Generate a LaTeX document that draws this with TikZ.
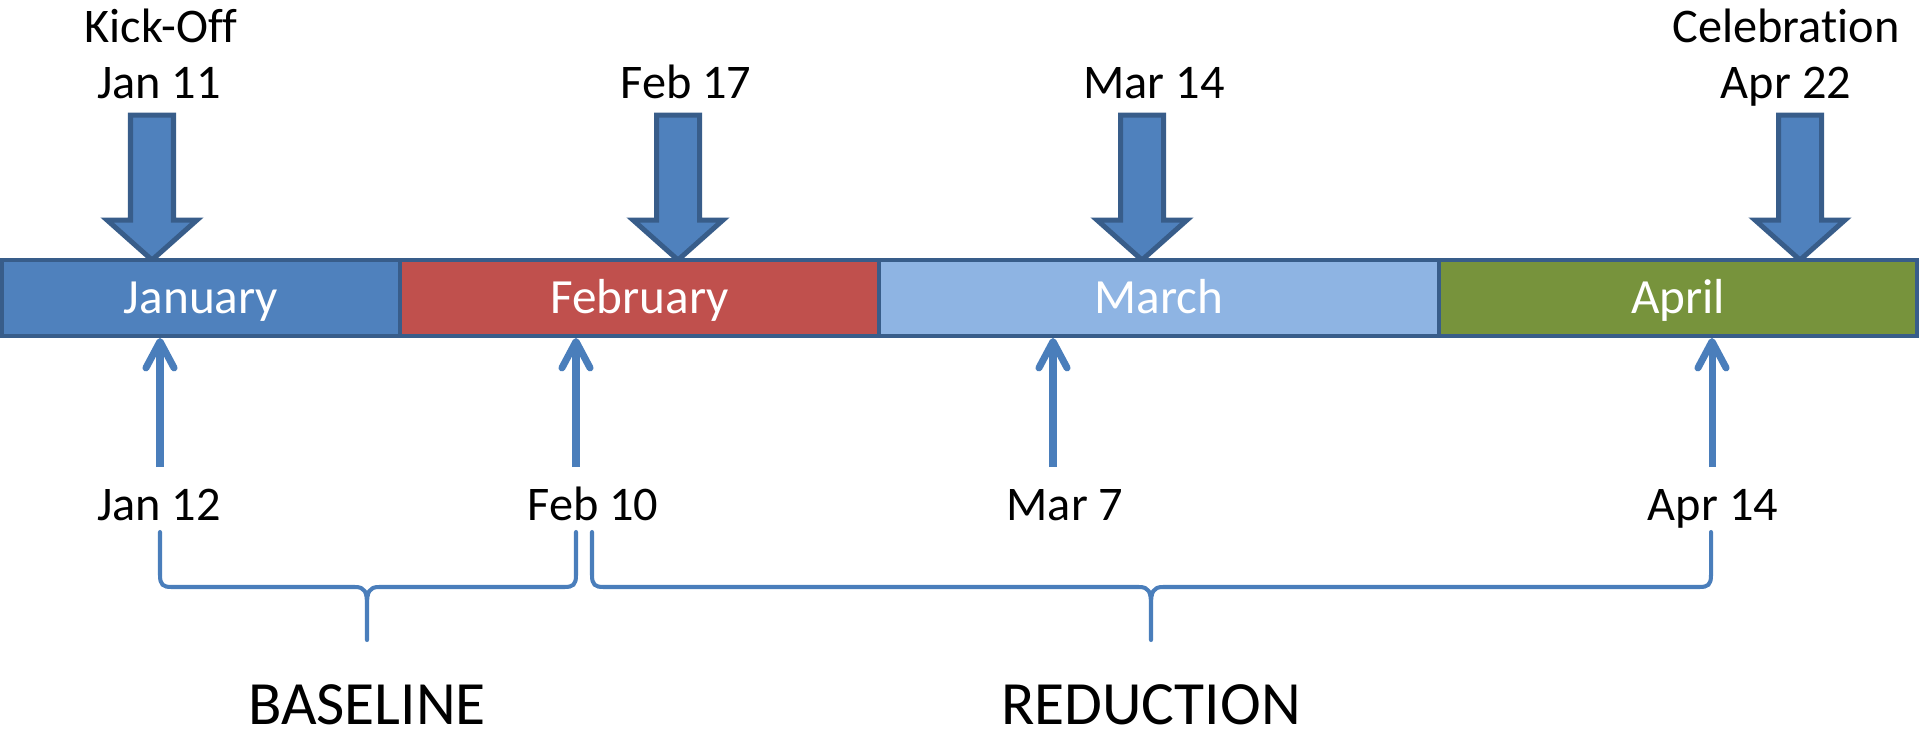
\documentclass[tikz,border=0pt]{standalone}
\usepackage{fontspec}
\setmainfont{Carlito}[Ligatures=NoCommon]
\usetikzlibrary{arrows.meta}
\definecolor{janC}{HTML}{4F81BD}
\definecolor{febC}{HTML}{C0504D}
\definecolor{marC}{HTML}{8EB4E3}
\definecolor{aprC}{HTML}{77933C}
\definecolor{edgeC}{HTML}{385D8A}
\definecolor{lineC}{HTML}{4A7EBB}
\tikzset{
  month/.style={draw=edgeC, line width=2.3pt, text=white, inner sep=0pt,
    font=\fontsize{28}{30}\selectfont, text height=17.5pt, text depth=0pt,
    minimum height=1.52cm},
  datelabel/.style={anchor=base, inner sep=0pt, font=\fontsize{27.5}{30}\selectfont},
  phaselabel/.style={anchor=base, inner sep=0pt, font=\fontsize{35}{40}\selectfont},
  thinarrow/.style={draw=lineC, line width=4pt,
    -{Straight Barb[length=15pt, width=16pt, round]}},
  bracestyle/.style={draw=lineC, line width=2.3pt, line cap=round},
  bigarrowstyle/.style={fill=janC, draw=edgeC, line width=2.85pt, line join=miter},
  bigarrow/.pic={
    \draw[bigarrowstyle] (-21.5,-145) -- (21.5,-145) -- (21.5,-40) -- (45,-40)
      -- (0,0) -- (-45,-40) -- (-21.5,-40) -- cycle;
  }
}
\newcommand\mybrace[4]{%
  \coordinate (#4a) at (#1,532);
  \coordinate (#4m) at (#2,640);
  \coordinate (#4b) at (#3,532);
  \draw[bracestyle] (#4a) -- (#1,575) .. controls (#1,585) and (#1+3,587) .. (#1+12,587)
    -- (#2-12,587) .. controls (#2-2,587) and (#2,592) .. (#2,605) -- (#4m)
    (#2,605) .. controls (#2,592) and (#2+2,587) .. (#2+12,587)
    -- (#3-12,587) .. controls (#3-3,587) and (#3,585) .. (#3,575) -- (#4b);
}
\begin{document}
\begin{tikzpicture}[x=0.02cm,y=-0.02cm]
\useasboundingbox (0,0) rectangle (1920,735);

% big arrows
\pic at (152,260) {bigarrow};
\pic at (678,260) {bigarrow};
\pic at (1142,260) {bigarrow};
\pic at (1800,260) {bigarrow};

% month bar
\node[month, fill=janC, minimum width=7.96cm] (jan) at (201,298) {January};
\node[month, fill=febC, minimum width=9.58cm] (feb) at (639.5,298) {February};
\node[month, fill=marC, minimum width=11.2cm] (mar) at (1159,298) {March};
\node[month, fill=aprC, minimum width=9.56cm] (apr) at (1678,298) {April};

% top labels
\node[datelabel] (kick) at (161,42) {Kick-Off};
\node[datelabel] (d1) at (159,98) {Jan 11};
\node[datelabel] (d2) at (686,98) {Feb 17};
\node[datelabel] (d3) at (1154,98) {Mar 14};
\node[datelabel] (celeb) at (1786,42) {Celebration};
\node[datelabel] (d4) at (1786,98) {Apr 22};

% bottom labels
\node[datelabel] (b1) at (159,520) {Jan 12};
\node[datelabel] (b2) at (593,520) {Feb 10};
\node[datelabel] (b3) at (1065,520) {Mar 7};
\node[datelabel] (b4) at (1713,520) {Apr 14};

% thin arrows
\coordinate (s1) at (160,467);
\coordinate (s2) at (576,467);
\coordinate (s3) at (1053,467);
\coordinate (s4) at (1712,467);
\draw[thinarrow] (s1) -- (s1 |- jan.south);
\draw[thinarrow] (s2) -- (s2 |- feb.south);
\draw[thinarrow] (s3) -- (s3 |- mar.south);
\draw[thinarrow] (s4) -- (s4 |- apr.south);

% braces
\mybrace{160}{367}{576}{base}
\mybrace{592}{1151}{1711}{red}
\node[phaselabel] (baseline) at (367,724) {BASELINE};
\node[phaselabel] (reduction) at (1151,724) {REDUCTION};
\end{tikzpicture}
\end{document}
